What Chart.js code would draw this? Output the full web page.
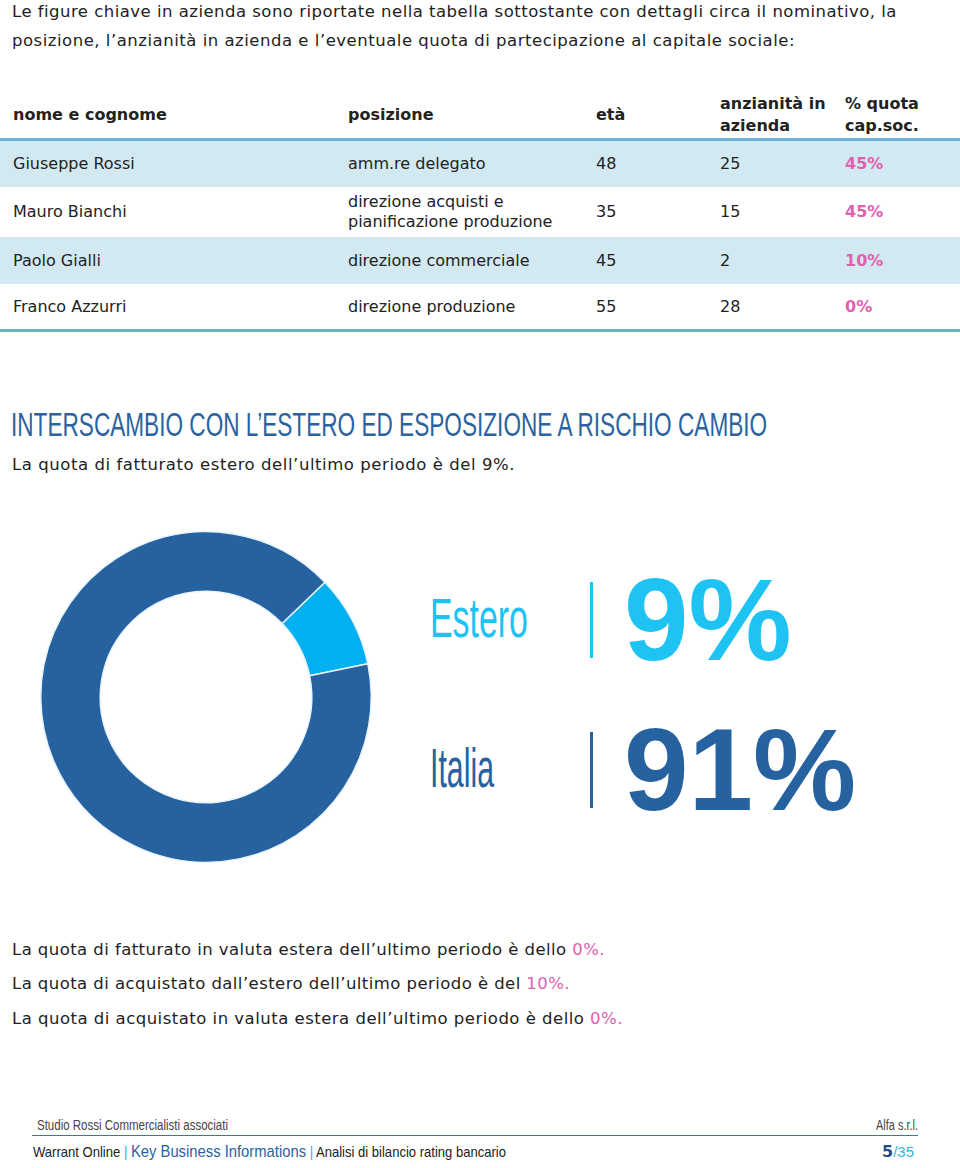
<!DOCTYPE html>
<html>
<head>
<meta charset="utf-8">
<script src="https://cdn.jsdelivr.net/npm/chart.js@4"></script>
<style>
  body { margin: 0; width: 960px; height: 1168px; background: #fff; position: relative; overflow: hidden;
         font-family: "DejaVu Sans", sans-serif; color: #222; }
  .abs { position: absolute; white-space: nowrap; }
  .p { font-size: 16.5px; line-height: 20px; }
  .pink { color: #e060b0; }
  .th { font-weight: bold; font-size: 16px; line-height: 22px; }
  .row { position: absolute; left: 0; width: 960px; }
  .td { position: absolute; font-size: 16px; line-height: 20px; transform: translateY(-50%); }
  .narrow { font-family: "Liberation Sans", sans-serif; transform-origin: left center; }
</style>
</head>
<body>

<div class="abs p" data-ls="885" style="left:12px;top:2px;">Le figure chiave in azienda sono riportate nella tabella sottostante con dettagli circa il nominativo, la</div>
<div class="abs p" data-ls="783" style="left:12px;top:31px;">posizione, l’anzianità in azienda e l’eventuale quota di partecipazione al capitale sociale:</div>

<div id="tabella"></div>

<div class="abs narrow" data-w="756" style="left:11px;top:406px;font-size:33px;color:#2a63a0;">INTERSCAMBIO CON L’ESTERO ED ESPOSIZIONE A RISCHIO CAMBIO</div>
<div class="abs p" data-ls="503" style="left:12px;top:455px;">La quota di fatturato estero dell’ultimo periodo è del 9%.</div>

<div style="position:absolute;left:30px;top:521px;width:352px;height:352px;">
  <canvas id="grafico"></canvas>
</div>

<div id="legenda"></div>

<div class="abs p" data-ls="593" style="left:12px;top:940px;">La quota di fatturato in valuta estera dell’ultimo periodo è dello <span class="pink">0%.</span></div>
<div class="abs p" data-ls="558" style="left:12px;top:974px;">La quota di acquistato dall’estero dell’ultimo periodo è del <span class="pink">10%.</span></div>
<div class="abs p" data-ls="611" style="left:12px;top:1009px;">La quota di acquistato in valuta estera dell’ultimo periodo è dello <span class="pink">0%.</span></div>

<div class="abs narrow" data-w="191" style="left:37px;top:1117px;font-size:14px;color:#444;">Studio Rossi Commercialisti associati</div>
<div class="abs narrow" data-w="42" style="left:876px;top:1117px;font-size:14px;color:#444;">Alfa s.r.l.</div>
<div class="abs" style="left:32px;top:1135px;width:886px;height:1px;background:#3f74a8;"></div>
<div class="abs narrow" data-w="473" style="left:33px;top:1142px;font-size:15px;color:#222;">Warrant Online <span style="color:#3aa8d8;">|</span> <span style="font-size:17px;color:#2a63a0;">Key Business Informations</span> <span style="color:#3aa8d8;">|</span> Analisi di bilancio rating bancario</div>
<div class="abs" style="left:882px;top:1142px;font-size:16px;"><b style="color:#1f4f8c;">5</b><span style="font-family:'Liberation Sans';font-size:15px;color:#37b0dc;">/35</span></div>

<script>
// tabella figure chiave
const intestazioni = ["nome e cognome", "posizione", "età", "anzianità in<br>azienda", "% quota<br>cap.soc."];
const nomi = ["Giuseppe Rossi", "Mauro Bianchi", "Paolo Gialli", "Franco Azzurri"];
const posizioni = ["amm.re delegato", "direzione acquisti e<br>pianificazione produzione", "direzione commerciale", "direzione produzione"];
const eta = [48, 35, 45, 55];
const anzianita = [25, 15, 2, 28];
const quote = ["45%", "45%", "10%", "0%"];

// grafico interscambio
const aree = ["Estero", "Italia"];
const percentuali = [9, 91];
const colori = ["#00b0f0", "#2662a0"];
const coloriTesto = ["#1fc3f3", "#2662a0"];

const colonneX = [13, 348, 596, 720, 845];

function creaTabella() {
    const t = document.getElementById("tabella");
    let html = "";
    intestazioni.forEach((h, i) => {
        html += `<div class="abs th" style="left:${colonneX[i]}px;top:115px;transform:translateY(-50%);">${h}</div>`;
    });
    html += `<div class="abs" style="left:0;top:138px;width:960px;height:3px;background:#6bb3d6;"></div>`;
    const righe = [[141, 187], [187, 237], [237, 284], [284, 330]];
    nomi.forEach((n, r) => {
        const [y0, y1] = righe[r];
        const bg = r % 2 === 0 ? "#d3e9f1" : "#fff";
        const cy = (y1 - y0) / 2;
        html += `<div class="row" style="top:${y0}px;height:${y1 - y0}px;background:${bg};">`;
        const celle = [n, posizioni[r], eta[r], anzianita[r], `<span class="pink" style="font-weight:bold;">${quote[r]}</span>`];
        celle.forEach((c, i) => {
            html += `<div class="td" style="left:${colonneX[i]}px;top:${cy}px;">${c}</div>`;
        });
        html += `</div>`;
    });
    html += `<div class="abs" style="left:0;top:329px;width:960px;height:3px;background:#66b6b8;"></div>`;
    t.innerHTML = html;
}

function creaLegenda() {
    const l = document.getElementById("legenda");
    const righeY = [578, 728];
    const larghezze = [98, 64];
    let html = "";
    aree.forEach((a, i) => {
        const y = righeY[i];
        html += `<div class="abs narrow" data-w="${larghezze[i]}" style="left:430px;top:${y + 7}px;font-size:56px;color:${coloriTesto[i]};">${a}</div>`;
        html += `<div class="abs" style="left:590px;top:${y + 4}px;width:3px;height:76px;background:${coloriTesto[i]};"></div>`;
        html += `<div class="abs" style="left:624px;top:${y - 23}px;font-family:'Liberation Sans';font-weight:bold;font-size:116px;line-height:130px;color:${coloriTesto[i]};">${percentuali[i]}%</div>`;
    });
    l.innerHTML = html;
}

// adatta i testi alle larghezze del riferimento
function adatta() {
    document.querySelectorAll("[data-w]").forEach(el => {
        const w = el.getBoundingClientRect().width;
        el.style.transform = `scaleX(${(+el.dataset.w / w).toFixed(3)})`;
    });
    document.querySelectorAll("[data-ls]").forEach(el => {
        const w = el.getBoundingClientRect().width;
        const n = el.textContent.length;
        el.style.letterSpacing = `${((+el.dataset.ls - w) / n).toFixed(3)}px`;
    });
}

function creaGrafico() {
    const canvas = document.getElementById("grafico");
    new Chart(canvas, {
        type: "doughnut",
        data: {
            labels: aree,
            datasets: [{
                data: percentuali,
                backgroundColor: colori,
                borderColor: "#e8f4fb",
                borderWidth: 1.5
            }]
        },
        options: {
            responsive: true,
            maintainAspectRatio: false,
            animation: false,
            rotation: 46,
            cutout: "64%",
            layout: { padding: 10 },
            plugins: {
                legend: { display: false },
                tooltip: { enabled: false }
            }
        }
    });
}

creaTabella();
creaLegenda();
adatta();
creaGrafico();
</script>
</body>
</html>
